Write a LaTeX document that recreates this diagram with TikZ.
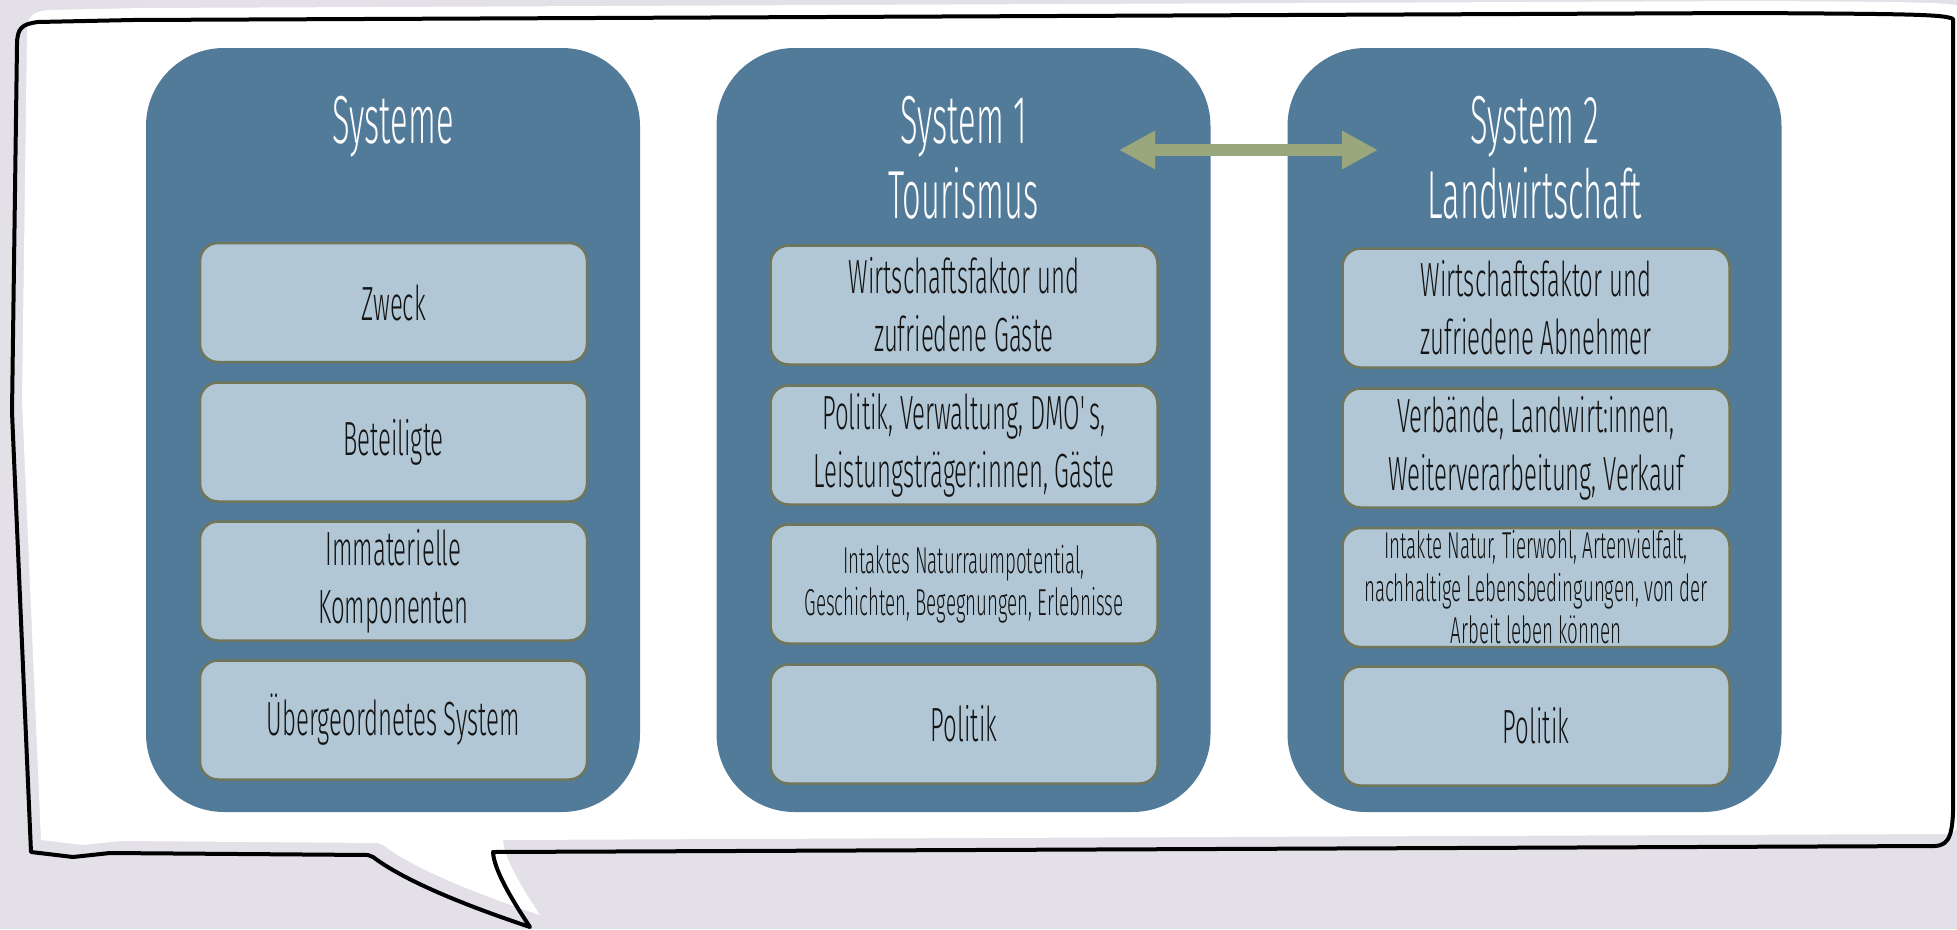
\documentclass[tikz,border=0pt]{standalone}
\usepackage{fontspec}
% thin, strongly condensed sans: a light Fira Sans cut, narrowed
\IfFontExistsTF{FiraSans-Light.otf}
  {\def\basefont{FiraSans-Light.otf}}
  {\IfFontExistsTF{Fira Sans Light}
    {\def\basefont{Fira Sans Light}}
    {\def\basefont{Fira Sans}}}
\setmainfont{\basefont}[FakeStretch=0.48]
\newfontfamily\bodyfont{\basefont}[FakeStretch=0.50]
\usetikzlibrary{arrows.meta}

\definecolor{paper}{RGB}{227,224,231}
\definecolor{colblue}{RGB}{82,122,153}
\definecolor{itemblue}{RGB}{177,199,214}
\definecolor{itemedge}{RGB}{112,118,90}
\definecolor{sage}{RGB}{154,167,125}
\definecolor{ink}{RGB}{20,20,20}

\newcommand\titlesize{\fontsize{68}{75}\selectfont}
\newcommand\mainsize{\bodyfont\fontsize{48}{58}\selectfont}
\newcommand\smallsize{\bodyfont\fontsize{37.5}{42.5}\selectfont}

% outline of the speech bubble
\def\bubblepath{%
  (17,45) .. controls (17,28) and (22,24) .. (38,22)
  -- (133,20) -- (1750,13) .. controls (1900,14) and (1945,14) .. (1953,19)
  -- (1953,790) .. controls (1954,835) and (1950,845) .. (1935,846)
  -- (493,852)
  .. controls (494,870) and (512,900) .. (530,927)
  .. controls (485,912) and (410,885) .. (373,857)
  -- (368,855) -- (110,853) -- (73,857) -- (31,852)
  -- (12,412) -- (17,45) -- cycle}

\tikzset{
  column/.style={fill=colblue, rounded corners=78pt, minimum width=494pt,
    minimum height=764pt, inner sep=0pt},
  item/.style={fill=itemblue, draw=itemedge, line width=2.5pt,
    rounded corners=18pt, minimum width=387pt, minimum height=119pt,
    inner sep=0pt, align=center, text=ink, font=\mainsize},
  smallitem/.style={item, font=\smallsize},
  heading/.style={text=white, inner sep=0pt, anchor=base, font=\titlesize},
  linkarrow/.style={draw=sage, line width=12pt, {Triangle[length=36pt,width=36pt]}-{Triangle[length=36pt,width=36pt]}},
  outline/.style={draw=black, line width=4pt, line join=round},
}

\begin{document}
\begin{tikzpicture}[x=1pt, y=-1pt]
  \useasboundingbox (0,0) rectangle (1957,929);
  \clip (0,0) rectangle (1957,929);
  \fill[paper] (0,0) rectangle (1957,929);

  % bubble: white body slightly offset, hand-drawn outline on top
  \path[fill=white, shift={(10,-12)}] \bubblepath;
  \path[outline] \bubblepath;

  % columns
  \node[column] (c1) at (393,430) {};
  \node[column] (c2) at (963.5,430) {};
  \node[column] (c3) at (1534.5,430) {};

  % headings
  \node[heading] (h1) at (393,143) {Systeme};
  \node[heading] (h2a) at (963.5,143) {System 1};
  \node[heading] (h2b) at (963.5,218) {Tourismus};
  \node[heading] (h3a) at (1534.5,143) {System 2};
  \node[heading] (h3b) at (1534.5,218) {Landwirtschaft};

  % link between the two systems
  \coordinate (arL) at (1119,150);
  \coordinate (arR) at (1378,150);
  \draw[linkarrow] (arL) -- (arR);

  % column 1
  \node[item] (a1) at (393.5,302.5) {Zweck};
  \node[item] (a2) at (393.5,442) {Beteiligte};
  \node[item] (a3) at (393.5,581) {Immaterielle\\Komponenten};
  \node[item] (a4) at (393.5,720) {Übergeordnetes System};

  % column 2
  \node[item] (b1) at (964,305) {Wirtschaftsfaktor und\\zufriedene Gäste};
  \node[item] (b2) at (964,445) {Politik, Verwaltung, DMO\textquotesingle s,\\Leistungsträger:innen, Gäste};
  \node[smallitem] (b3) at (964,584) {Intaktes Naturraumpotential,\\Geschichten, Begegnungen, Erlebnisse};
  \node[item] (b4) at (964,724) {Politik};

  % column 3
  \node[item] (d1) at (1536,308) {Wirtschaftsfaktor und\\zufriedene Abnehmer};
  \node[item] (d2) at (1536,448) {Verbände, Landwirt:innen,\\Weiterverarbeitung, Verkauf};
  \node[smallitem] (d3) at (1536,587.5) {Intakte Natur, Tierwohl, Artenvielfalt,\\nachhaltige Lebensbedingungen, von der\\Arbeit leben können};
  \node[item] (d4) at (1536,726) {Politik};
\end{tikzpicture}
\end{document}
